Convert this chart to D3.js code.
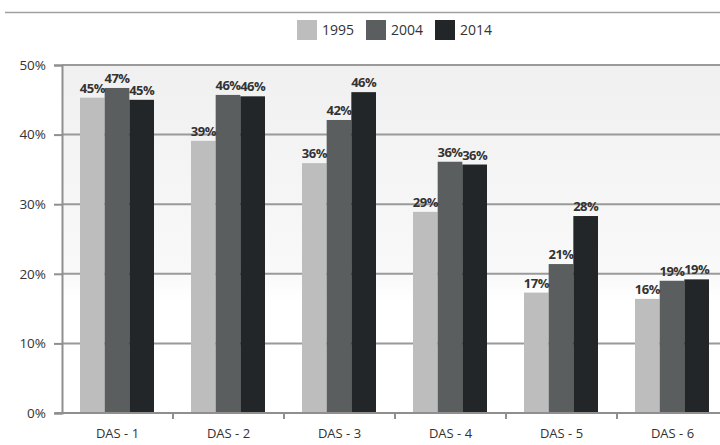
<!DOCTYPE html>
<html>
<head>
<meta charset="utf-8">
<script src="https://cdn.jsdelivr.net/npm/d3@7"></script>
<style>
  body { margin: 0; background: #fff; }
  svg { display: block; font-family: "Open Sans", sans-serif; }
</style>
</head>
<body>
<div id="chart"></div>
<script>
// data
var categories = ["DAS - 1", "DAS - 2", "DAS - 3", "DAS - 4", "DAS - 5", "DAS - 6"];
var years = ["1995", "2004", "2014"];
var values1995 = [45.3, 39.1, 35.9, 28.9, 17.3, 16.4];
var values2004 = [46.7, 45.7, 42.1, 36.1, 21.4, 19.0];
var values2014 = [45.0, 45.5, 46.1, 35.7, 28.3, 19.2];
var labels1995 = ["45%", "39%", "36%", "29%", "17%", "16%"];
var labels2004 = ["47%", "46%", "42%", "36%", "21%", "19%"];
var labels2014 = ["45%", "46%", "46%", "36%", "28%", "19%"];
var yTicks = [0, 10, 20, 30, 40, 50];

var colors = ["#bdbdbd", "#5b5e5f", "#232628"];

var svgWidth = 720;
var svgHeight = 445;

var svg = d3.select("#chart")
  .append("svg")
  .attr("width", svgWidth)
  .attr("height", svgHeight);

// rows for each category
var rows = categories.map(function (c, i) {
  return {
    cat: c,
    vals: [values1995[i], values2004[i], values2014[i]],
    labs: [labels1995[i], labels2004[i], labels2014[i]]
  };
});

var x0 = d3.scaleBand()
  .domain(categories)
  .range([62, 728])
  .paddingInner(0)
  .paddingOuter(0);

var x1 = d3.scaleBand()
  .domain(years)
  .range([18, 92])
  .padding(0);

var y = d3.scaleLinear()
  .domain([0, 50])
  .range([413, 65]);

// background gradient
var defs = svg.append("defs");
var grad = defs.append("linearGradient")
  .attr("id", "bg")
  .attr("x1", 0).attr("y1", 0).attr("x2", 0).attr("y2", 1);
grad.append("stop").attr("offset", "0%").attr("stop-color", "#f0f0f0");
grad.append("stop").attr("offset", "60%").attr("stop-color", "#f9f9f9");
grad.append("stop").attr("offset", "68%").attr("stop-color", "#ffffff");
grad.append("stop").attr("offset", "100%").attr("stop-color", "#ffffff");

svg.append("rect")
  .attr("x", 62)
  .attr("y", y(50))
  .attr("width", svgWidth - 62)
  .attr("height", y(0) - y(50))
  .attr("fill", "url(#bg)");

// top rule
svg.append("line")
  .attr("x1", 5).attr("x2", svgWidth)
  .attr("y1", 12.5).attr("y2", 12.5)
  .attr("stroke", "#a0a0a0")
  .attr("stroke-width", 1.5);

// gridlines
svg.append("g")
  .selectAll("line")
  .data(yTicks.filter(function (d) { return d > 0; }))
  .enter()
  .append("line")
  .attr("x1", 62).attr("x2", svgWidth)
  .attr("y1", d => y(d)).attr("y2", d => y(d))
  .attr("stroke", "#9a9a9a")
  .attr("stroke-width", 2);

// y axis
var yAxis = d3.axisLeft(y)
  .tickValues(yTicks)
  .tickFormat(d => d + "%")
  .tickSize(8)
  .tickPadding(8);

var yAxisG = svg.append("g")
  .attr("transform", "translate(62,0)")
  .call(yAxis);
yAxisG.select(".domain").attr("stroke", "#8f8f8f").attr("stroke-width", 2);
yAxisG.selectAll(".tick line").attr("stroke", "#8f8f8f").attr("stroke-width", 2);
yAxisG.selectAll(".tick text")
  .attr("font-size", "13.5px")
  .attr("fill", "#333")
  .attr("font-family", "Open Sans, sans-serif");

// bars
var groups = svg.append("g")
  .selectAll("g")
  .data(rows)
  .enter()
  .append("g")
  .attr("transform", d => `translate(${x0(d.cat)},0)`);

groups.selectAll("rect")
  .data(d => d.vals.map((v, j) => ({ year: years[j], v: v, j: j })))
  .enter()
  .append("rect")
  .attr("x", d => x1(d.year))
  .attr("y", d => y(d.v))
  .attr("width", x1.bandwidth())
  .attr("height", d => y(0) - y(d.v))
  .attr("fill", d => colors[d.j]);

groups.selectAll("text")
  .data(d => d.vals.map((v, j) => ({ year: years[j], v: v, lab: d.labs[j] })))
  .enter()
  .append("text")
  .attr("x", d => x1(d.year) + x1.bandwidth() / 2)
  .attr("y", d => y(d.v) - 5)
  .attr("text-anchor", "middle")
  .attr("font-size", "13px")
  .attr("font-weight", "bold")
  .attr("letter-spacing", "-0.5px")
  .attr("fill", "#333")
  .text(d => d.lab);

// x axis
var xAxis = d3.axisBottom(x0)
  .tickSize(0)
  .tickPadding(16);

var xAxisG = svg.append("g")
  .attr("transform", `translate(0,${y(0)})`)
  .call(xAxis);
xAxisG.select(".domain").remove();
xAxisG.append("line")
  .attr("x1", 55).attr("x2", svgWidth)
  .attr("y1", 0).attr("y2", 0)
  .attr("stroke", "#8f8f8f")
  .attr("stroke-width", 2);
xAxisG.selectAll(".sep")
  .data(categories.slice(1))
  .enter()
  .append("line")
  .attr("class", "sep")
  .attr("x1", d => x0(d)).attr("x2", d => x0(d))
  .attr("y1", 0).attr("y2", 6)
  .attr("stroke", "#8f8f8f")
  .attr("stroke-width", 2);
xAxisG.selectAll(".tick text")
  .attr("font-size", "13px")
  .attr("fill", "#333")
  .attr("font-family", "Open Sans, sans-serif");

// legend
var legend = svg.append("g")
  .selectAll("g")
  .data(years)
  .enter()
  .append("g")
  .attr("transform", (d, i) => `translate(${297 + i * 69},20)`);

legend.append("rect")
  .attr("width", 20)
  .attr("height", 20)
  .attr("fill", (d, i) => colors[i]);

legend.append("text")
  .attr("x", 25)
  .attr("y", 15)
  .attr("font-size", "14px")
  .attr("fill", "#333")
  .text(d => d);
</script>
</body>
</html>
